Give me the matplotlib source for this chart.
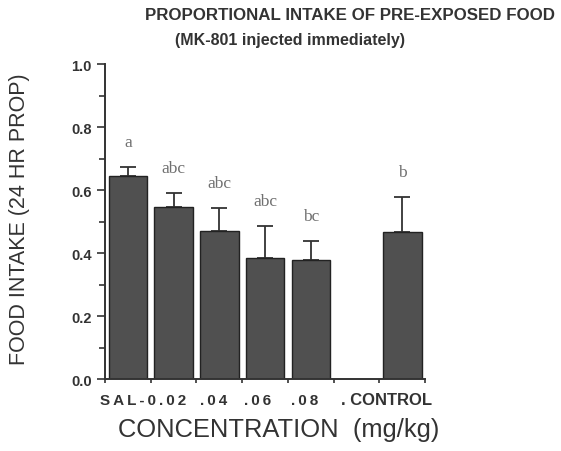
import matplotlib
matplotlib.use('Agg')
from matplotlib import pyplot as plt
from matplotlib.ticker import MultipleLocator

# values
groups = ['SAL', '0.02', '.04', '.06', '.08', 'CONTROL']
means = [0.645, 0.545, 0.470, 0.384, 0.379, 0.467]
sem = [0.029, 0.045, 0.073, 0.103, 0.058, 0.110]
letters = ['a', 'abc', 'abc', 'abc', 'bc', 'b']
slots = [0.5, 1.5, 2.5, 3.5, 4.5, 6.5]   # slot 5 left empty
label_text = ['SAL-0.02', '.04', '.06', '.08', '. CONTROL']
label_pos = [-0.11, 2.07, 3.04, 4.07, 5.17]

plt.rcParams['font.family'] = ['Liberation Sans', 'DejaVu Sans']
TXT = '#333333'
THIN = '\u2009'

fig = plt.figure(figsize=(5.61, 4.52), dpi=100)
ax = fig.add_axes([0.187, 0.159, 0.571, 0.697])

ax.bar(slots, means, width=0.84, color='#505050', edgecolor='#222222',
       linewidth=1.0, zorder=2)
ax.errorbar(slots, means, yerr=[[0] * len(sem), sem], fmt='none',
            ecolor='#333333', elinewidth=1.3, capsize=6, capthick=1.3, zorder=1)

for x, m, s, t in zip(slots, means, sem, letters):
    ax.text(x, m + s + 0.08, t, ha='center', va='center', fontsize=12.5,
            family='Liberation Serif', color='#707070')

ax.set_xlim(0, 7)
ax.set_ylim(0, 1.0)
ax.set_xticks(range(8))
ax.set_xticklabels([])
ax.yaxis.set_major_locator(MultipleLocator(0.2))
ax.yaxis.set_minor_locator(MultipleLocator(0.1))
ax.set_yticklabels([f'{v:.1f}' for v in ax.get_yticks()], fontsize=10.5,
                   fontweight='bold', color=TXT)
ax.tick_params(axis='y', which='major', length=6, width=1.2, direction='out',
               colors=TXT)
ax.tick_params(axis='y', which='minor', length=4, width=1.2, direction='out',
               colors=TXT)
ax.tick_params(axis='x', length=3, width=1.2, direction='out', colors=TXT)
ax.spines['top'].set_visible(False)
ax.spines['right'].set_visible(False)
for s in ['left', 'bottom']:
    ax.spines[s].set_linewidth(1.4)
    ax.spines[s].set_color(TXT)

trans = ax.get_xaxis_transform()
for x, t in zip(label_pos, label_text):
    size = 11
    if 'CONTROL' in t:
        size = 12
    else:
        t = THIN.join(t)
    ax.text(x, -0.065, t, transform=trans, ha='left', va='center',
            fontsize=size, fontweight='bold', color=TXT)

ax.set_ylabel('FOOD INTAKE (24 HR PROP)', fontsize=15.5, color=TXT)
ax.yaxis.set_label_coords(-0.235, 0.51)
ax.text(0.544, -0.159, 'CONCENTRATION  (mg/kg)', transform=ax.transAxes,
        ha='center', va='center', fontsize=18.4, color=TXT)

fig.text(0.99, 0.965, 'PROPORTIONAL INTAKE OF PRE-EXPOSED FOOD', ha='right',
         va='center', fontsize=12.2, fontweight='bold', color=TXT)
fig.text(0.312, 0.91, '(MK-801 injected immediately)', ha='left',
         va='center', fontsize=11.5, fontweight='bold', color=TXT)

fig.savefig('out.png', dpi=100)
